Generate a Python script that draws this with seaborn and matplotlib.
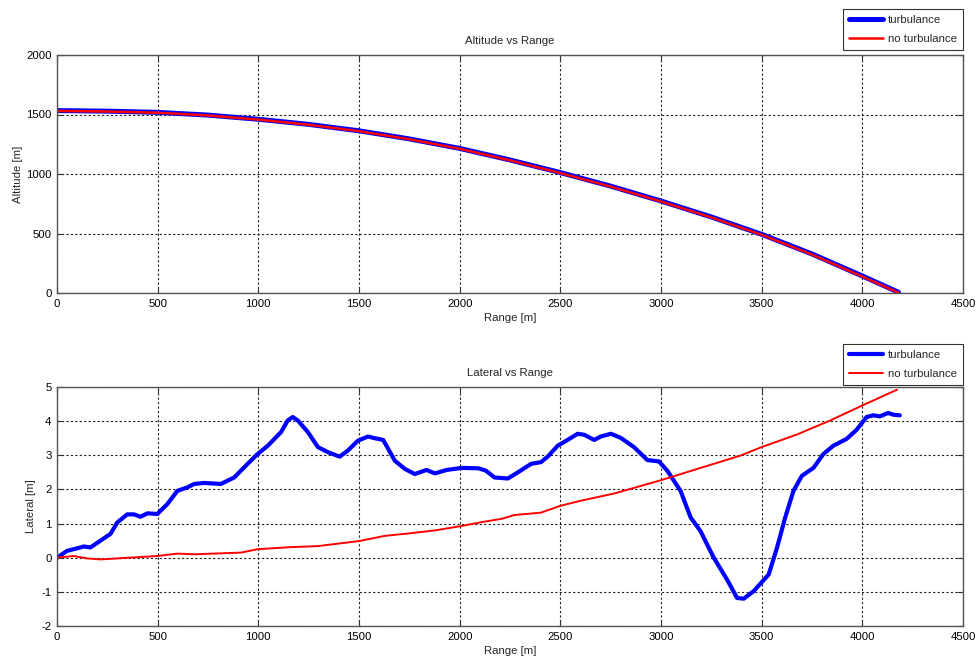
import numpy as np
import pandas as pd
import matplotlib
matplotlib.use("Agg")
import matplotlib.pyplot as plt
from matplotlib import font_manager
import seaborn as sns

# ---------------- data ----------------
alt_range = [0, 250, 500, 750, 1000, 1250, 1500, 1750, 2000, 2250, 2500,
             2750, 3000, 3250, 3500, 3750, 4000, 4180]
alt_turb = [1533, 1528, 1518, 1495, 1460, 1417, 1363, 1295, 1215, 1118, 1012,
            898, 773, 639, 493, 328, 143, 6]
alt_noturb = [1530, 1525, 1515, 1492, 1457, 1414, 1360, 1292, 1212, 1115, 1008,
              894, 769, 635, 489, 323, 138, 2]

lat_turb_range = [0, 50, 116, 133, 166, 216, 266, 299, 349, 382, 415, 449, 498,
                  548, 598, 648, 681, 731, 814, 880, 947, 997, 1047, 1080, 1113,
                  1146, 1171, 1196, 1246, 1296, 1346, 1404, 1445, 1495, 1545,
                  1578, 1620, 1678, 1728, 1777, 1835, 1877, 1935, 2010, 2093,
                  2130, 2173, 2239, 2289, 2355, 2404, 2437, 2487, 2536, 2586,
                  2619, 2668, 2701, 2751, 2800, 2866, 2932, 2990, 3031, 3097,
                  3147, 3196, 3262, 3328, 3378, 3411, 3460, 3535, 3576, 3617,
                  3658, 3700, 3757, 3807, 3856, 3922, 3972, 4021, 4054, 4087,
                  4128, 4153, 4186]
lat_turb = [0.0, 0.2, 0.3, 0.33, 0.3, 0.5, 0.7, 1.03, 1.27, 1.27, 1.2, 1.3, 1.28,
            1.57, 1.96, 2.06, 2.16, 2.19, 2.16, 2.35, 2.75, 3.04, 3.28, 3.48, 3.68,
            4.02, 4.12, 4.02, 3.68, 3.24, 3.09, 2.96, 3.14, 3.43, 3.55,
            3.5, 3.45, 2.84, 2.6, 2.45, 2.57, 2.47, 2.57, 2.63, 2.62,
            2.55, 2.35, 2.32, 2.5, 2.75, 2.8, 2.96, 3.28, 3.45, 3.63,
            3.6, 3.45, 3.55, 3.63, 3.51, 3.24, 2.86, 2.82, 2.55, 1.96,
            1.18, 0.78, 0.0, -0.64, -1.18, -1.2, -0.98, -0.49, 0.29, 1.18,
            1.96, 2.4, 2.63, 3.04, 3.28, 3.48, 3.75, 4.12, 4.17, 4.14,
            4.24, 4.19, 4.17]

lat_noturb_range = [0, 83, 149, 216, 299, 498, 598, 681, 914, 997, 1163, 1296,
                    1503, 1628, 1745, 1877, 2010, 2107, 2209, 2272, 2404, 2500,
                    2602, 2767, 3000, 3180, 3394, 3500, 3676, 3841, 4000, 4172]
lat_noturb = [0.0, 0.05, -0.02, -0.05, -0.02, 0.05, 0.12, 0.1, 0.15, 0.25, 0.31,
              0.34, 0.49, 0.64, 0.71, 0.8, 0.93, 1.04, 1.14, 1.25, 1.32, 1.52,
              1.67, 1.88, 2.27, 2.6, 2.99, 3.24, 3.61, 4.02, 4.46, 4.92]

series_names = ["turbulance", "no turbulance"]
x_ticks = [0, 500, 1000, 1500, 2000, 2500, 3000, 3500, 4000, 4500]
alt_ticks = [0, 500, 1000, 1500, 2000]
lat_ticks = [-2, -1, 0, 1, 2, 3, 4, 5]

# ---------------- style ----------------
sns.set_style("white")
avail = {f.name for f in font_manager.fontManager.ttflist}
fam = ["Liberation Sans Narrow"] if "Liberation Sans Narrow" in avail else (
    ["DejaVu Sans Condensed"] if "DejaVu Sans Condensed" in avail else ["Liberation Sans"])
plt.rcParams["font.family"] = fam + ["DejaVu Sans"]
FS = 8.2

fig = plt.figure(figsize=(9.79, 6.70), dpi=100)
ax1 = fig.add_axes([57 / 979, 1 - 293 / 670, 906 / 979, 238 / 670])
ax2 = fig.add_axes([57 / 979, 1 - 626 / 670, 906 / 979, 239 / 670])

df_alt = pd.concat([
    pd.DataFrame({"Range": alt_range, "Value": alt_turb, "Series": series_names[0]}),
    pd.DataFrame({"Range": alt_range, "Value": alt_noturb, "Series": series_names[1]}),
])
df_lat = pd.concat([
    pd.DataFrame({"Range": lat_turb_range, "Value": lat_turb, "Series": series_names[0]}),
    pd.DataFrame({"Range": lat_noturb_range, "Value": lat_noturb, "Series": series_names[1]}),
])

palette = {series_names[0]: "#0000ff", series_names[1]: "#ff0000"}

for ax, df, lw, ticks, ylim, title, ylabel, gap, labx in [
    (ax1, df_alt, (3.6, 1.8), alt_ticks, (0, 2000), "Altitude vs Range", "Altitude [m]", 5 / 238, -0.038),
    (ax2, df_lat, (3.0, 1.4), lat_ticks, (-2, 5), "Lateral vs Range", "Lateral [m]", 2 / 239, -0.023),
]:
    for name, w in zip(series_names, lw):
        sub = df[df["Series"] == name]
        sns.lineplot(data=sub, x="Range", y="Value", ax=ax, color=palette[name],
                     linewidth=w, label=name, sort=False, estimator=None)
    ax.set_xlim(0, 4500)
    ax.set_ylim(*ylim)
    ax.set_xticks(x_ticks)
    ax.set_yticks(ticks)
    ax.set_xticklabels([str(t) for t in x_ticks], fontsize=FS)
    ax.set_yticklabels([str(t) for t in ticks], fontsize=FS)
    ax.grid(True, linestyle=(0, (2, 2)), color="#222222", linewidth=0.8)
    ax.set_axisbelow(True)
    ax.tick_params(direction="in", length=4, width=0.8, top=True, right=True,
                   bottom=True, left=True, pad=4, colors="#333333", labelcolor="black")
    for s in ax.spines.values():
        s.set_color("#555555")
        s.set_linewidth(1.0)
    ax.set_title(title, fontsize=FS, pad=8)
    ax.set_xlabel("Range [m]", fontsize=FS, labelpad=3)
    ax.set_ylabel(ylabel, fontsize=FS)
    ax.yaxis.set_label_coords(labx, 0.5)
    leg = ax.legend(loc="lower right", bbox_to_anchor=(1.0, 1.0 + gap), fontsize=FS,
                    frameon=True, fancybox=False, borderaxespad=0, handlelength=3.0,
                    handletextpad=0.4, labelspacing=0.75, borderpad=0.55)
    leg.get_frame().set_edgecolor("black")
    leg.get_frame().set_linewidth(0.8)

fig.savefig("out.png", dpi=100, facecolor="white")
